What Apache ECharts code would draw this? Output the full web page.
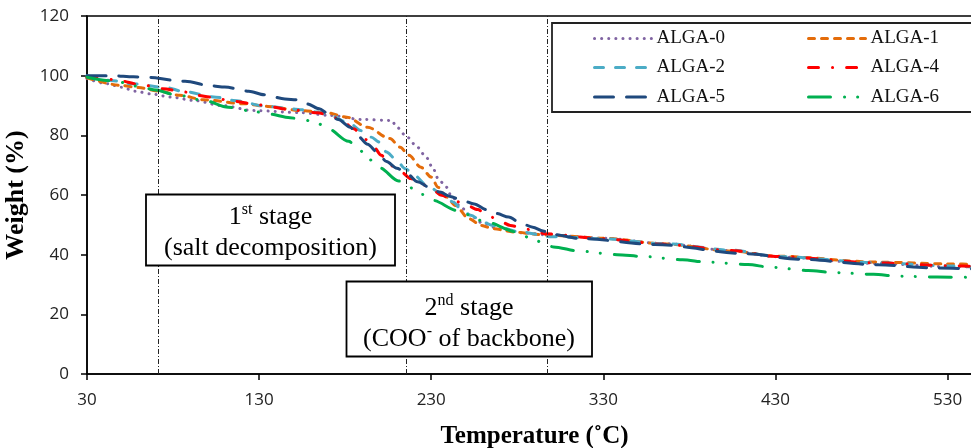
<!DOCTYPE html>
<html>
<head>
<meta charset="utf-8">
<script src="https://cdn.jsdelivr.net/npm/echarts@6/dist/echarts.min.js"></script>
<style>
  html, body { margin: 0; padding: 0; background: #fff; }
  #chart { width: 971px; height: 448px; }
</style>
</head>
<body>
<div id="chart"></div>
<script>
// Thermogravimetric curves of the ALGA samples (temperature in °C, residual weight in %)
const seriesNames = ['ALGA-0', 'ALGA-1', 'ALGA-2', 'ALGA-4', 'ALGA-5', 'ALGA-6'];

const tAlga0 = [30, 42, 50, 58, 67, 79, 92, 108, 127, 154, 171, 190, 207, 210, 216, 222, 227, 231, 234, 238, 242, 247, 253, 260, 270, 285, 300, 330, 365, 405, 430, 490, 530, 550];
const wAlga0 = [99, 97.3, 96.1, 94.8, 93.9, 92.8, 91.7, 90, 88.3, 87.6, 86.7, 85.3, 85.0, 82.7, 79.4, 76, 72.7, 69, 65.5, 63.2, 59.5, 56, 53, 50.5, 48.5, 47.2, 46.5, 45.5, 43.7, 41.3, 39.3, 37, 36, 35.8];

const tAlga1 = [30, 50, 60, 72, 84, 98, 121, 135, 154, 169, 181, 193, 206, 212, 217, 224, 230, 234, 239, 244, 252, 259, 266, 278, 292, 300, 330, 365, 405, 430, 490, 530, 550];
const wAlga1 = [99.3, 96.7, 96, 94.8, 93.4, 91.9, 90.6, 89.7, 88.3, 87.6, 86.1, 82.7, 78.9, 76, 73.3, 69.3, 66, 62.6, 59.3, 56.5, 52, 49.8, 48.7, 47.6, 46.8, 46.5, 45.5, 43.6, 41.2, 39.5, 37.5, 36.9, 36.7];

const tAlga2 = [30, 44, 56, 77, 85, 105, 115, 135, 148, 154, 164, 171, 183, 189, 195, 200, 204, 209, 215, 220, 228, 236, 243, 247, 253, 260, 266, 280, 300, 330, 365, 405, 430, 490, 530, 550];
const wAlga2 = [100, 98.4, 97.3, 95.9, 94.8, 92.8, 91.7, 89.7, 88.9, 88.6, 87.8, 86.7, 83.9, 81.6, 79.4, 77.7, 74.4, 72.2, 68.8, 66.6, 63, 60.4, 57.6, 55.4, 53.2, 50.9, 49.8, 47.8, 46, 45.3, 43.7, 41.5, 39.4, 37.3, 36.2, 35.7];

const tAlga4 = [30, 45, 64, 74, 87, 94, 102, 109, 116, 129, 135, 148, 164, 173, 179, 185, 191, 196, 201, 206, 213, 218, 224, 230, 236, 243, 249, 257, 263, 269, 276, 284, 290, 296, 330, 365, 405, 430, 490, 530, 550];
const wAlga4 = [99.5, 98.7, 96.7, 95.6, 94.5, 93.4, 92.8, 92, 91.4, 90.3, 89.7, 88.6, 87.6, 86.1, 84.4, 82.2, 78.9, 76.6, 73.3, 70, 67.5, 65.5, 63.8, 62.1, 59.9, 58.2, 57.1, 55.1, 53.2, 51.5, 49.8, 48.7, 48.1, 47, 45.3, 43.5, 41.4, 39.4, 37.2, 36.3, 36];

const tAlga5 = [30, 45, 57, 67, 80, 87, 102, 110, 124, 133, 145, 152, 158, 165, 170, 176, 183, 188, 193, 199, 204, 210, 216, 222, 229, 235, 241, 248, 255, 262, 268, 275, 282, 289, 295, 300, 317, 360, 414, 443, 490, 520, 550];
const wAlga5 = [100, 100, 99.6, 99.4, 98.5, 98.1, 96.6, 96.2, 94.8, 93.6, 92.2, 91.9, 90.5, 88.9, 87.3, 85.3, 82.7, 79.4, 77, 74.2, 71.2, 69, 67.1, 64.4, 62.6, 61, 59.5, 58.2, 57, 55.1, 53.8, 52.6, 50.6, 49.2, 47.9, 46.8, 45.4, 43.4, 40.3, 38.5, 36.6, 35.6, 35.1];

const tAlga6 = [30, 46, 60, 70, 80, 98, 112, 127, 135, 148, 156, 164, 170, 182, 188, 194, 200, 211, 218, 225, 231, 245, 259, 280, 287, 295, 301, 316, 338, 353, 376, 390, 414, 427, 449, 464, 487, 501, 524, 550];
const wAlga6 = [99.5, 98.2, 96.4, 95.2, 93.8, 91.7, 89.4, 88, 87.2, 85.9, 85.2, 84, 82.2, 78, 75.2, 71.9, 69.1, 64.7, 62.4, 60.2, 58.2, 54.8, 51.5, 47.6, 45.7, 44, 42.6, 41.2, 40, 39.4, 38.3, 37.5, 36.7, 35.8, 34.7, 34, 33.4, 32.8, 32.5, 32.3];

// Boundaries between decomposition stages (°C)
const stageBounds = [71.5, 215.5, 297.5];

// Axis ticks
const xTicks = [30, 130, 230, 330, 430, 530];
const yTicks = [0, 20, 40, 60, 80, 100, 120];

const temps = [tAlga0, tAlga1, tAlga2, tAlga4, tAlga5, tAlga6];
const weights = [wAlga0, wAlga1, wAlga2, wAlga4, wAlga5, wAlga6];

const colors = ['#8064A2', '#E46C0A', '#4BACC6', '#FF0000', '#1F497D', '#00B050'];
const dashes = [
  [0.1, 7],
  [6, 7],
  [9, 12],
  [10, 14, 0.1, 14],
  [19, 13],
  [22, 14, 0.1, 13, 0.1, 14]
];

const serif = '"Liberation Serif", "Times New Roman", serif';
const sans = '"Open Sans", "Liberation Sans", sans-serif';

const series = seriesNames.map((name, i) => ({
  name: name,
  type: 'line',
  symbol: 'none',
  showSymbol: false,
  smooth: 0.3,
  smoothMonotone: 'x',
  data: temps[i].map((t, k) => [t, weights[i][k]]),
  lineStyle: { color: colors[i], width: 3, type: dashes[i], cap: 'round' },
  itemStyle: { color: colors[i] },
  z: 3
}));

// Dash-dot guides at the stage boundaries
series.push({
  name: 'stages',
  type: 'line',
  data: [],
  silent: true,
  markLine: {
    symbol: 'none',
    silent: true,
    label: { show: false },
    lineStyle: { color: '#222', width: 1, type: [5, 2, 1, 2] },
    emphasis: { disabled: true },
    data: stageBounds.map(v => ({ xAxis: v }))
  },
  z: 2
});

// One legend block per entry, in a 2-column layout
const legendPos = [
  { left: 593, center: 39 }, { left: 807, center: 39 },
  { left: 593, center: 68 }, { left: 807, center: 68 },
  { left: 593, center: 97.5 }, { left: 807, center: 97.5 }
];
const legendOrder = ['ALGA-0', 'ALGA-1', 'ALGA-2', 'ALGA-4', 'ALGA-5', 'ALGA-6'];
const legends = legendOrder.map((name, i) => ({
  data: [name],
  left: legendPos[i].left,
  top: legendPos[i].center - 10,
  padding: 0,
  itemWidth: 57,
  itemHeight: 20,
  itemGap: 5,
  selectedMode: false,
  itemStyle: { opacity: 0 },
  lineStyle: { width: 3, opacity: 1 },
  textStyle: { fontFamily: serif, fontSize: 19, color: '#111' }
}));

const chart = echarts.init(document.getElementById('chart'), null, { renderer: 'canvas' });

chart.setOption({
  animation: false,
  backgroundColor: '#fff',
  grid: {
    left: 87,
    top: 16,
    width: 895,
    height: 358,
    outerBoundsMode: 'none',
    containLabel: false,
    show: true,
    borderColor: '#000',
    borderWidth: 1.5,
    backgroundColor: 'transparent'
  },
  legend: legends,
  xAxis: {
    type: 'value',
    min: 30,
    max: 550,
    name: 'Temperature (˚C)',
    nameLocation: 'middle',
    nameGap: 50,
    nameTextStyle: { fontFamily: serif, fontWeight: 'bold', fontSize: 25, color: '#000' },
    splitLine: { show: false },
    axisLine: { show: true, lineStyle: { color: '#000', width: 1.5 } },
    axisTick: { show: true, length: 6, customValues: xTicks, lineStyle: { color: '#000', width: 1.5 } },
    axisLabel: { customValues: xTicks, margin: 18, fontFamily: sans, fontSize: 17, color: '#222' }
  },
  yAxis: {
    type: 'value',
    min: 0,
    max: 120,
    interval: 20,
    name: 'Weight (%)',
    nameLocation: 'middle',
    nameGap: 46,
    nameTextStyle: { fontFamily: serif, fontWeight: 'bold', fontSize: 26, color: '#000' },
    splitLine: { show: false },
    axisLine: { show: true, lineStyle: { color: '#000', width: 1.5 } },
    axisTick: { show: true, length: 6, lineStyle: { color: '#000', width: 1.5 } },
    axisLabel: { margin: 18, fontFamily: sans, fontSize: 17, color: '#222',
      formatter: v => (yTicks.indexOf(v) >= 0 ? String(v) : '') }
  },
  series: series,
  graphic: [
    // frame around the legend
    { type: 'rect', z: 1, silent: true,
      shape: { x: 552, y: 23, width: 440, height: 89 },
      style: { fill: 'none', stroke: '#222', lineWidth: 1.8 } },
    // first-stage label
    { type: 'rect', z: 50, silent: true,
      shape: { x: 146, y: 194.5, width: 249, height: 71 },
      style: { fill: '#fff', stroke: '#000', lineWidth: 1.8 } },
    { type: 'text', z: 51, silent: true,
      style: {
        x: 270.5, y: 233, align: 'center', verticalAlign: 'middle',
        text: '{a|1}{s|st}{a| stage}\n{a|(salt decomposition)}',
        rich: {
          a: { fontFamily: serif, fontSize: 26, lineHeight: 31, fill: '#000' },
          s: { fontFamily: serif, fontSize: 16, lineHeight: 16, verticalAlign: 'top', fill: '#000' }
        }
      } },
    // second-stage label
    { type: 'rect', z: 50, silent: true,
      shape: { x: 346.5, y: 281.5, width: 245.5, height: 75 },
      style: { fill: '#fff', stroke: '#000', lineWidth: 1.8 } },
    { type: 'text', z: 51, silent: true,
      style: {
        x: 469, y: 324, align: 'center', verticalAlign: 'middle',
        text: '{a|2}{s|nd}{a| stage}\n{a|(COO}{s|-}{a| of backbone)}',
        rich: {
          a: { fontFamily: serif, fontSize: 26, lineHeight: 31, fill: '#000' },
          s: { fontFamily: serif, fontSize: 16, lineHeight: 16, verticalAlign: 'top', fill: '#000' }
        }
      } }
  ]
});
</script>
</body>
</html>
